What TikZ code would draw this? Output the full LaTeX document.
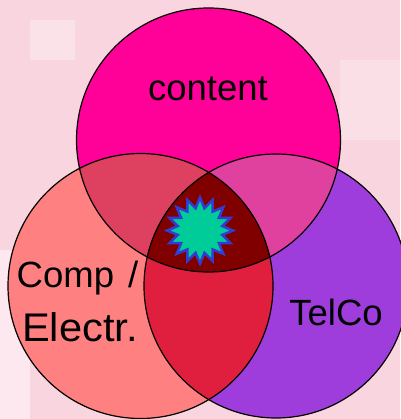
\documentclass[tikz,border=0pt]{standalone}
\usepackage{fontspec}
\setmainfont{Liberation Sans}
\usetikzlibrary{shapes.geometric}
\definecolor{bgpink}{RGB}{249,214,223}
\definecolor{bgpale}{RGB}{252,232,238}
\definecolor{ctop}{RGB}{255,0,153}
\definecolor{cleft}{RGB}{255,128,128}
\definecolor{cright}{RGB}{158,60,220}
\definecolor{ctl}{RGB}{222,64,96}
\definecolor{ctr}{RGB}{224,64,158}
\definecolor{clr}{RGB}{224,30,62}
\definecolor{ctri}{RGB}{128,0,0}
\definecolor{starfill}{RGB}{0,204,153}
\definecolor{starline}{RGB}{51,60,210}
\tikzset{
  ring/.style={draw=black, line width=1.2pt},
  lbl/.style={inner sep=0pt, font=\fontsize{36.5}{40}\selectfont},
  biglbl/.style={inner sep=0pt, font=\fontsize{40}{44}\selectfont},
}
\begin{document}
\begin{tikzpicture}[x=1pt,y=-1pt]
\useasboundingbox (0,0) rectangle (400,419);
\fill[bgpink] (0,0) rectangle (400,419);
\fill[bgpale] (0,250) rectangle (30,419);
\fill[bgpale!60!bgpink] (30,20) rectangle (75,60);
\fill[bgpale!50!bgpink] (340,60) rectangle (400,140);
% base fills
\fill[ctop] (208.5,140) circle (132);
\fill[cleft] (140.5,286) circle (132.5);
\fill[cright] (276,286) circle (132);
% pairwise overlaps
\begin{scope}
  \clip (208.5,140) circle (132);
  \fill[ctl] (140.5,286) circle (132.5);
  \fill[ctr] (276,286) circle (132);
\end{scope}
\begin{scope}
  \clip (140.5,286) circle (132.5);
  \fill[clr] (276,286) circle (132);
\end{scope}
\begin{scope}
  \clip (208.5,140) circle (132);
  \clip (140.5,286) circle (132.5);
  \fill[ctri] (276,286) circle (132);
\end{scope}
% outlines
\draw[ring] (208.5,140) circle (132);
\draw[ring] (140.5,286) circle (132.5);
\draw[ring] (276,286) circle (132);
% star
\node[star, star points=16, star point ratio=1.45, minimum size=66pt, inner sep=0pt,
      fill=starfill, draw=starline, line width=2.5pt] (burst) at (200,230.5) {};
% labels
\node[lbl, anchor=base west] (comp) at (16.5,287) {Comp \hspace{4pt}/};
\node[biglbl, anchor=base west] (electr) at (22,341) {\scalebox{1.04}[1]{Electr.}};
\node[lbl, anchor=base] (content) at (208,101) {content};
\node[lbl, anchor=base] (telco) at (336,325) {TelCo};
\end{tikzpicture}
\end{document}
